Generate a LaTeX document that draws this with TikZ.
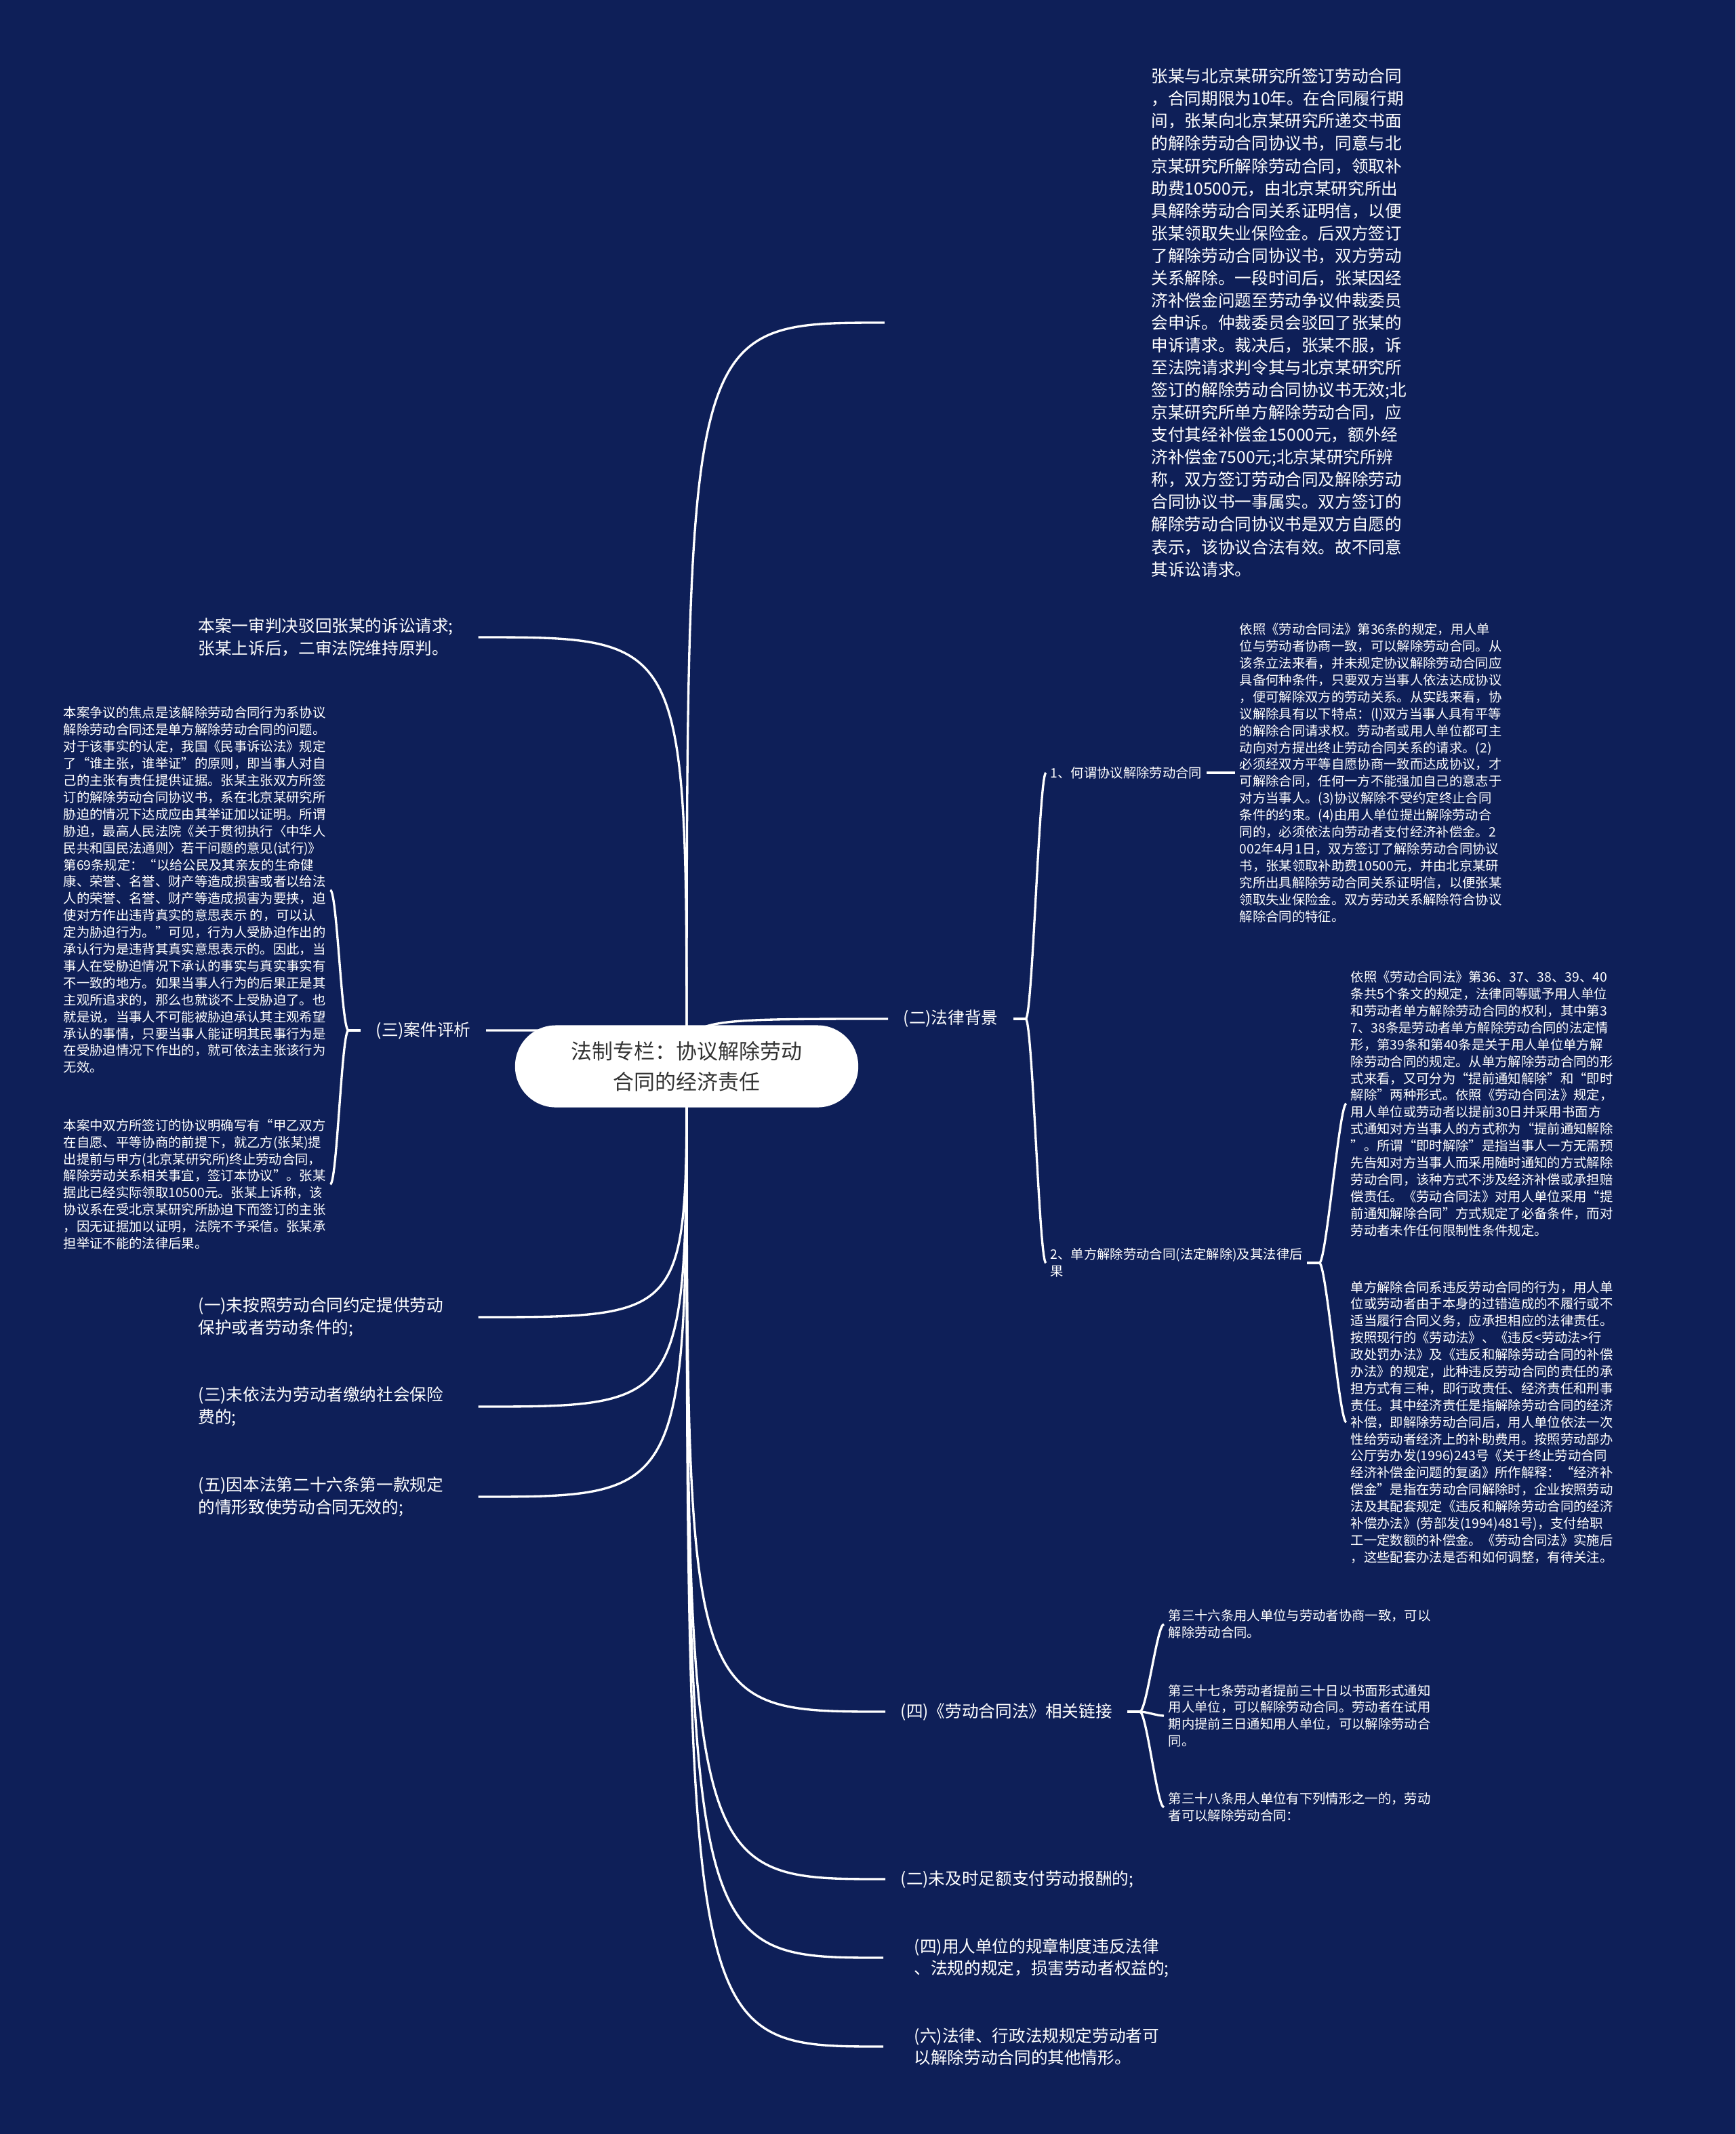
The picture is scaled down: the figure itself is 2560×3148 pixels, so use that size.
\documentclass[tikz,border=0pt]{standalone}
\usepackage{fontspec}
\setmainfont{Noto Sans CJK SC}
\usepackage{tikz}
\usetikzlibrary{positioning,backgrounds}
\definecolor{navybg}{RGB}{14,31,88}
\definecolor{rootink}{RGB}{51,51,51}
\tikzset{link/.style={draw=white, line width=0.95pt}}
\tikzset{branch/.style={text=white, align=left, inner xsep=0.22cm, inner ysep=0pt, font=\fontsize{7}{9.2}\selectfont}}
\tikzset{twig/.style={text=white, align=left, inner xsep=0.06cm, inner ysep=0pt, font=\fontsize{5.5}{7.08}\selectfont}}
\tikzset{rootbox/.style={fill=white, rounded corners=0.6cm, minimum width=5.06cm, minimum height=1.21cm, text=rootink, align=center, font=\fontsize{8.8}{12.8}\selectfont}}

\begin{document}
\begin{tikzpicture}[x=0.01cm, y=-0.01cm]
            \useasboundingbox (0,0) rectangle (2560,3148);
            \begin{scope}[on background layer]
                \fill[navybg] (0,0) rectangle (2560,3148);
            \end{scope}

            \node[rootbox] (root) at (1013,1573) {法制专栏：协议解除劳动\\合同的经济责任};

            % right side
            \node[branch, inner xsep=0pt, anchor=west, font=\fontsize{7}{9.4}\selectfont] (facts) at (1698,476) {张某与北京某研究所签订劳动合同\\，合同期限为10年。在合同履行期\\间，张某向北京某研究所递交书面\\的解除劳动合同协议书，同意与北\\京某研究所解除劳动合同，领取补\\助费10500元，由北京某研究所出\\具解除劳动合同关系证明信，以便\\张某领取失业保险金。后双方签订\\了解除劳动合同协议书，双方劳动\\关系解除。一段时间后，张某因经\\济补偿金问题至劳动争议仲裁委员\\会申诉。仲裁委员会驳回了张某的\\申诉请求。裁决后，张某不服，诉\\至法院请求判令其与北京某研究所\\签订的解除劳动合同协议书无效;北\\京某研究所单方解除劳动合同，应\\支付其经补偿金15000元，额外经\\济补偿金7500元;北京某研究所辨\\称，双方签订劳动合同及解除劳动\\合同协议书一事属实。双方签订的\\解除劳动合同协议书是双方自愿的\\表示，该协议合法有效。故不同意\\其诉讼请求。};
            \coordinate (factsIn) at ([xshift=-3.93cm]facts.west);

            \node[branch, anchor=west] (lawBg) at (1310,1503) {(二)法律背景};
            \node[twig, anchor=west] (whatIs) at (1543,1140) {1、何谓协议解除劳动合同};
            \node[twig, right=0.42cm of whatIs] (agreedText) {依照《劳动合同法》第36条的规定，用人单\\位与劳动者协商一致，可以解除劳动合同。从\\该条立法来看，并未规定协议解除劳动合同应\\具备何种条件，只要双方当事人依法达成协议\\，便可解除双方的劳动关系。从实践来看，协\\议解除具有以下特点：(l)双方当事人具有平等\\的解除合同请求权。劳动者或用人单位都可主\\动向对方提出终止劳动合同关系的请求。(2)\\必须经双方平等自愿协商一致而达成协议，才\\可解除合同，任何一方不能强加自己的意志于\\对方当事人。(3)协议解除不受约定终止合同\\条件的约束。(4)由用人单位提出解除劳动合\\同的，必须依法向劳动者支付经济补偿金。2\\002年4月1日，双方签订了解除劳动合同协议\\书，张某领取补助费10500元，并由北京某研\\究所出具解除劳动合同关系证明信，以便张某\\领取失业保险金。双方劳动关系解除符合协议\\解除合同的特征。};
            \node[twig, anchor=west] (oneSided) at (1543,1863) {2、单方解除劳动合同(法定解除)及其法律后\\果};
            \node[twig, anchor=west] (noticeText) at (1986,1628) {依照《劳动合同法》第36、37、38、39、40\\条共5个条文的规定，法律同等赋予用人单位\\和劳动者单方解除劳动合同的权利，其中第3\\7、38条是劳动者单方解除劳动合同的法定情\\形，第39条和第40条是关于用人单位单方解\\除劳动合同的规定。从单方解除劳动合同的形\\式来看，又可分为“提前通知解除”和“即时\\解除”两种形式。依照《劳动合同法》规定，\\用人单位或劳动者以提前30日并采用书面方\\式通知对方当事人的方式称为“提前通知解除\\”。所谓“即时解除”是指当事人一方无需预\\先告知对方当事人而采用随时通知的方式解除\\劳动合同，该种方式不涉及经济补偿或承担赔\\偿责任。《劳动合同法》对用人单位采用“提\\前通知解除合同”方式规定了必备条件，而对\\劳动者未作任何限制性条件规定。};
            \node[twig, anchor=west] (dutyText) at (1986,2098) {单方解除合同系违反劳动合同的行为，用人单\\位或劳动者由于本身的过错造成的不履行或不\\适当履行合同义务，应承担相应的法律责任。\\按照现行的《劳动法》、《违反<劳动法>行\\政处罚办法》及《违反和解除劳动合同的补偿\\办法》的规定，此种违反劳动合同的责任的承\\担方式有三种，即行政责任、经济责任和刑事\\责任。其中经济责任是指解除劳动合同的经济\\补偿，即解除劳动合同后，用人单位依法一次\\性给劳动者经济上的补助费用。按照劳动部办\\公厅劳办发(1996)243号《关于终止劳动合同\\经济补偿金问题的复函》所作解释：“经济补\\偿金”是指在劳动合同解除时，企业按照劳动\\法及其配套规定《违反和解除劳动合同的经济\\补偿办法》(劳部发(1994)481号)，支付给职\\工一定数额的补偿金。《劳动合同法》实施后\\，这些配套办法是否和如何调整，有待关注。};

            \node[branch, anchor=west] (lawLinks) at (1306,2525) {(四)《劳动合同法》相关链接};
            \node[twig, anchor=west] (art36) at (1717,2396) {第三十六条用人单位与劳动者协商一致，可以\\解除劳动合同。};
            \node[twig, anchor=west] (art37) at (1717,2531) {第三十七条劳动者提前三十日以书面形式通知\\用人单位，可以解除劳动合同。劳动者在试用\\期内提前三日通知用人单位，可以解除劳动合\\同。};
            \node[twig, anchor=west] (art38) at (1717,2666) {第三十八条用人单位有下列情形之一的，劳动\\者可以解除劳动合同：};

            \node[branch, anchor=west] (unpaid) at (1306,2772) {(二)未及时足额支付劳动报酬的;};
            \node[branch, inner xsep=0.45cm, anchor=west] (rules) at (1303,2888) {(四)用人单位的规章制度违反法律\\、法规的规定，损害劳动者权益的;};
            \node[branch, inner xsep=0.45cm, anchor=west] (others) at (1303,3019) {(六)法律、行政法规规定劳动者可\\以解除劳动合同的其他情形。};

            % left side
            \node[branch, text width=3.9cm, anchor=west] (verdict) at (270,940) {本案一审判决驳回张某的诉讼请求;\\张某上诉后，二审法院维持原判。};
            \node[branch, anchor=west] (review) at (532,1520) {(三)案件评析};
            \node[twig, anchor=west] (focusText) at (87,1313) {本案争议的焦点是该解除劳动合同行为系协议\\解除劳动合同还是单方解除劳动合同的问题。\\对于该事实的认定，我国《民事诉讼法》规定\\了“谁主张，谁举证”的原则，即当事人对自\\己的主张有责任提供证据。张某主张双方所签\\订的解除劳动合同协议书，系在北京某研究所\\胁迫的情况下达成应由其举证加以证明。所谓\\胁迫，最高人民法院《关于贯彻执行〈中华人\\民共和国民法通则〉若干问题的意见(试行)》\\第69条规定：“以给公民及其亲友的生命健\\康、荣誉、名誉、财产等造成损害或者以给法\\人的荣誉、名誉、财产等造成损害为要挟，迫\\使对方作出违背真实的意思表示 的，可以认\\定为胁迫行为。”可见，行为人受胁迫作出的\\承认行为是违背其真实意思表示的。因此，当\\事人在受胁迫情况下承认的事实与真实事实有\\不一致的地方。如果当事人行为的后果正是其\\主观所追求的，那么也就谈不上受胁迫了。也\\就是说，当事人不可能被胁迫承认其主观希望\\承认的事情，只要当事人能证明其民事行为是\\在受胁迫情况下作出的，就可依法主张该行为\\无效。};
            \node[twig, anchor=west] (signedText) at (87,1747) {本案中双方所签订的协议明确写有“甲乙双方\\在自愿、平等协商的前提下，就乙方(张某)提\\出提前与甲方(北京某研究所)终止劳动合同，\\解除劳动关系相关事宜，签订本协议”。张某\\据此已经实际领取10500元。张某上诉称，该\\协议系在受北京某研究所胁迫下而签订的主张\\，因无证据加以证明，法院不予采信。张某承\\担举证不能的法律后果。};

            \node[branch, text width=3.9cm, anchor=west] (noCond) at (270,1943) {(一)未按照劳动合同约定提供劳动\\保护或者劳动条件的;};
            \node[branch, text width=3.9cm, anchor=west] (insurance) at (270,2075) {(三)未依法为劳动者缴纳社会保险\\费的;};
            \node[branch, text width=3.9cm, anchor=west] (invalid) at (270,2208) {(五)因本法第二十六条第一款规定\\的情形致使劳动合同无效的;};

            \begin{scope}[on background layer]
                \draw[link] (root.center) .. controls (root.center |- factsIn) .. (factsIn);
                \draw[link] (root.center) .. controls (root.center |- lawBg.west) .. (lawBg.west);
                \draw[link] (root.center) .. controls (root.center |- lawLinks.west) .. (lawLinks.west);
                \draw[link] (root.center) .. controls (root.center |- unpaid.west) .. (unpaid.west);
                \draw[link] (root.center) .. controls (root.center |- rules.west) .. (rules.west);
                \draw[link] (root.center) .. controls (root.center |- others.west) .. (others.west);
                \draw[link] (root.center) .. controls (root.center |- verdict.east) .. (verdict.east);
                \draw[link] (root.center) .. controls (root.center |- review.east) .. (review.east);
                \draw[link] (root.center) .. controls (root.center |- noCond.east) .. (noCond.east);
                \draw[link] (root.center) .. controls (root.center |- insurance.east) .. (insurance.east);
                \draw[link] (root.center) .. controls (root.center |- invalid.east) .. (invalid.east);
            \end{scope}

            \draw[link] (lawBg.east) -- ++(18,0) coordinate (lawFork);
            \draw[link] (lawFork) .. controls +(10,0) and +(-10,0) .. (whatIs.west);
            \draw[link] (lawFork) .. controls +(10,0) and +(-10,0) .. (oneSided.west);
            \draw[link] (whatIs.east) -- (agreedText.west);
            \draw[link] (oneSided.east) -- ++(18,0) coordinate (sideFork);
            \draw[link] (sideFork) .. controls +(10,0) and +(-10,0) .. (noticeText.west);
            \draw[link] (sideFork) .. controls +(10,0) and +(-10,0) .. (dutyText.west);
            \draw[link] (lawLinks.east) -- ++(18,0) coordinate (linkFork);
            \draw[link] (linkFork) .. controls +(10,0) and +(-10,0) .. (art36.west);
            \draw[link] (linkFork) .. controls +(10,0) and +(-10,0) .. (art37.west);
            \draw[link] (linkFork) .. controls +(10,0) and +(-10,0) .. (art38.west);
            \draw[link] (review.west) -- ++(-18,0) coordinate (reviewFork);
            \draw[link] (reviewFork) .. controls +(-10,0) and +(10,0) .. (focusText.east);
            \draw[link] (reviewFork) .. controls +(-10,0) and +(10,0) .. (signedText.east);
        \end{tikzpicture}
\end{document}
